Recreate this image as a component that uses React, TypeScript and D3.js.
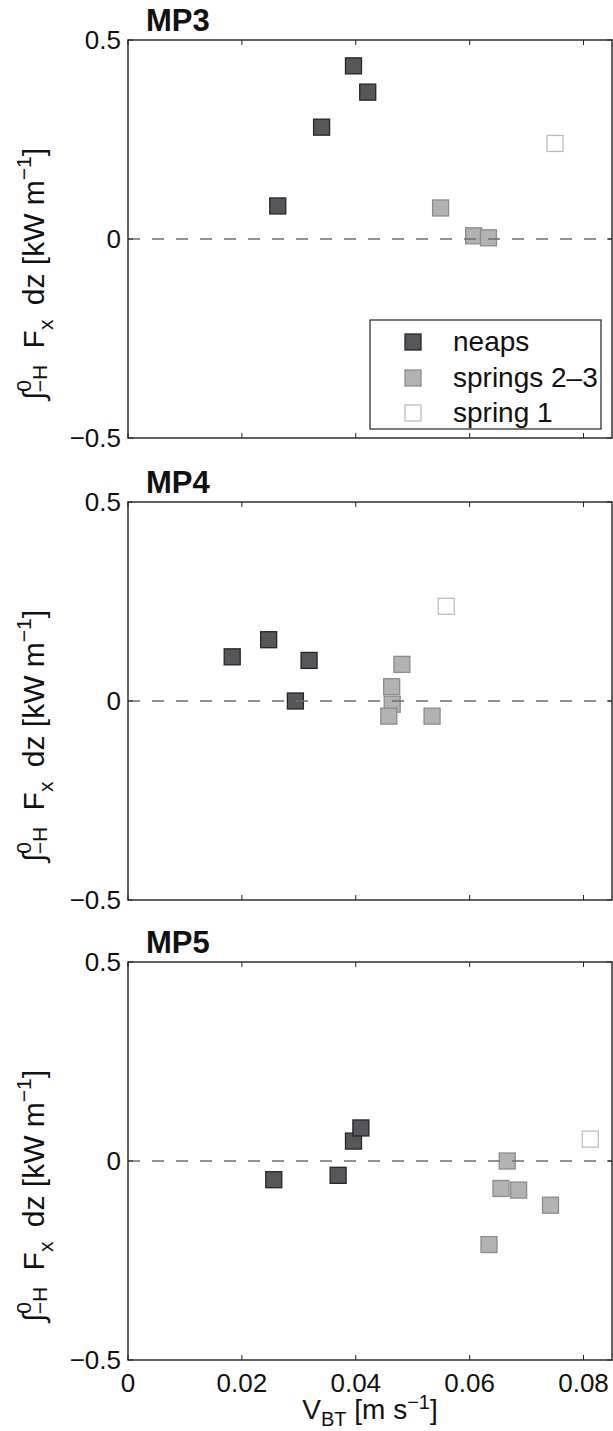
import React from "react";
import * as d3 from "d3";

// ---- data ----
const panelNames = ["MP3", "MP4", "MP5"];

const mp3NeapsX = [0.0263, 0.034, 0.0396, 0.0421];
const mp3NeapsY = [0.083, 0.281, 0.435, 0.369];
const mp3Springs23X = [0.0549, 0.0607, 0.0633];
const mp3Springs23Y = [0.078, 0.008, 0.003];
const mp3Spring1X = [0.075];
const mp3Spring1Y = [0.24];

const mp4NeapsX = [0.0183, 0.0247, 0.0318, 0.0294];
const mp4NeapsY = [0.111, 0.154, 0.102, 0.0];
const mp4Springs23X = [0.0481, 0.0463, 0.0464, 0.0458, 0.0534];
const mp4Springs23Y = [0.092, 0.036, -0.008, -0.038, -0.038];
const mp4Spring1X = [0.0559];
const mp4Spring1Y = [0.238];

const mp5NeapsX = [0.0256, 0.0369, 0.0396, 0.0409];
const mp5NeapsY = [-0.047, -0.036, 0.05, 0.083];
const mp5Springs23X = [0.0666, 0.0655, 0.0686, 0.0742, 0.0634];
const mp5Springs23Y = [0.0, -0.069, -0.073, -0.111, -0.21];
const mp5Spring1X = [0.0812];
const mp5Spring1Y = [0.055];

const seriesNames = ["neaps", "springs 2\u20133", "spring 1"];
const xTicks = [0, 0.02, 0.04, 0.06, 0.08];
const xTickLabels = ["0", "0.02", "0.04", "0.06", "0.08"];
const yTicks = [-0.5, 0, 0.5];
const yTickLabels = ["\u22120.5", "0", "0.5"];

const panelData = [
  [
    [mp3NeapsX, mp3NeapsY],
    [mp3Springs23X, mp3Springs23Y],
    [mp3Spring1X, mp3Spring1Y],
  ],
  [
    [mp4NeapsX, mp4NeapsY],
    [mp4Springs23X, mp4Springs23Y],
    [mp4Spring1X, mp4Spring1Y],
  ],
  [
    [mp5NeapsX, mp5NeapsY],
    [mp5Springs23X, mp5Springs23Y],
    [mp5Spring1X, mp5Spring1Y],
  ],
];

// ---- styling ----
const W = 613;
const H = 1431;
const left = 128;
const right = 612;
const panelTops = [40, 502, 962];
const panelH = 398;
const FONT = "'Liberation Sans', Arial, Helvetica, sans-serif";
const markerStyles = [
  { fill: "#56575b", stroke: "#262626" },
  { fill: "#b2b2b2", stroke: "#8c8c8c" },
  { fill: "#ffffff", stroke: "#bdbdbd" },
];
const MS = 16;

const x = d3.scaleLinear().domain([0, 0.085]).range([left, right]);

function Panel({ idx }: { idx: number }) {
  const top = panelTops[idx];
  const y = d3.scaleLinear().domain([-0.5, 0.5]).range([top + panelH, top]);
  const data = panelData[idx];
  const isLast = idx === panelNames.length - 1;
  const tickLen = 5;
  return (
    <g>
      {data.map((s, si) =>
        s[0].map((xv, i) => (
          <rect
            key={`${si}-${i}`}
            x={x(xv) - MS / 2}
            y={y(s[1][i]) - MS / 2}
            width={MS}
            height={MS}
            fill={markerStyles[si].fill}
            stroke={markerStyles[si].stroke}
            strokeWidth={1.3}
          />
        ))
      )}
      <line
        x1={left}
        x2={right}
        y1={y(0)}
        y2={y(0)}
        stroke="#6e6e6e"
        strokeWidth={1.5}
        strokeDasharray="12,12"
      />
      {xTicks.map((t, i) => (
        <g key={"xt" + i}>
          <line x1={x(t)} x2={x(t)} y1={top} y2={top + tickLen} stroke="#222" strokeWidth={1} />
          <line
            x1={x(t)}
            x2={x(t)}
            y1={top + panelH}
            y2={top + panelH - tickLen}
            stroke="#222"
            strokeWidth={1}
          />
          {isLast && (
            <text
              x={x(t)}
              y={top + panelH + 32}
              textAnchor="middle"
              fontSize={26}
              fontFamily={FONT}
              fill="#111"
            >
              {xTickLabels[i]}
            </text>
          )}
        </g>
      ))}
      {yTicks.map((t, i) => (
        <g key={"yt" + i}>
          <line x1={left} x2={left + tickLen} y1={y(t)} y2={y(t)} stroke="#222" strokeWidth={1} />
          <line x1={right} x2={right - tickLen} y1={y(t)} y2={y(t)} stroke="#222" strokeWidth={1} />
          <text
            x={left - 7}
            y={y(t)}
            dy="0.35em"
            textAnchor="end"
            fontSize={26}
            fontFamily={FONT}
            fill="#111"
          >
            {yTickLabels[i]}
          </text>
        </g>
      ))}
      <rect
        x={left}
        y={top}
        width={right - left}
        height={panelH}
        fill="none"
        stroke="#222"
        strokeWidth={1.4}
      />
      <text
        x={146}
        y={top - 9}
        fontSize={31}
        fontWeight="bold"
        fontFamily={FONT}
        fill="#111"
      >
        {panelNames[idx]}
      </text>
      <g transform={`translate(44, ${top + 234}) rotate(-90)`}>
        <text textAnchor="middle" fontSize={30} fontFamily={FONT} fill="#111">
          <tspan>{"\u222B"}</tspan>
          <tspan fontSize={21} dy={-13}>0</tspan>
          <tspan fontSize={21} dx={-12} dy={16}>{"\u2212H"}</tspan>
          <tspan dx={8} dy={-3}>{" F"}</tspan>
          <tspan fontSize={21} dy={9}>x</tspan>
          <tspan dx={6} dy={-9}>{" dz [kW m"}</tspan>
          <tspan fontSize={21} dy={-13}>{"\u22121"}</tspan>
          <tspan dy={13}>]</tspan>
        </text>
      </g>
    </g>
  );
}

function Legend() {
  const lx = 370;
  const ly = 320;
  const lw = 231;
  const lh = 109;
  const rows = [342, 378, 413];
  return (
    <g>
      <rect x={lx} y={ly} width={lw} height={lh} fill="#fff" stroke="#222" strokeWidth={1.2} />
      {seriesNames.map((n, i) => (
        <g key={n}>
          <rect
            x={413 - MS / 2}
            y={rows[i] - MS / 2}
            width={MS}
            height={MS}
            fill={markerStyles[i].fill}
            stroke={markerStyles[i].stroke}
            strokeWidth={1.3}
          />
          <text x={453} y={rows[i] + 9} fontSize={28} fontFamily={FONT} fill="#111">
            {n}
          </text>
        </g>
      ))}
    </g>
  );
}

export default function App() {
  return (
    <svg
      width={W}
      height={H}
      style={{ position: "absolute", left: 0, top: 0, background: "#fff" }}
    >
      <rect x={0} y={0} width={W} height={H} fill="#fff" />
      {panelNames.map((_, i) => (
        <Panel key={i} idx={i} />
      ))}
      <Legend />
      <text x={(left + right) / 2} y={1419} textAnchor="middle" fontSize={28} fontFamily={FONT} fill="#111">
        <tspan>V</tspan>
        <tspan fontSize={20} dy={7}>BT</tspan>
        <tspan dy={-7}>{" [m s"}</tspan>
        <tspan fontSize={20} dy={-10}>{"\u22121"}</tspan>
        <tspan dy={10}>]</tspan>
      </text>
    </svg>
  );
}
